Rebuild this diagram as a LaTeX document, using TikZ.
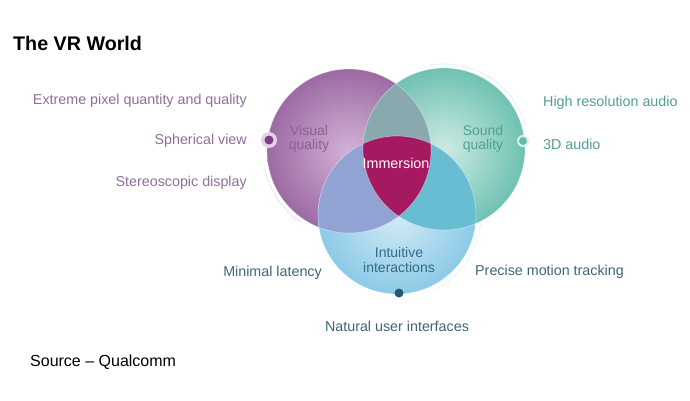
\documentclass[tikz,border=0pt]{standalone}
\usepackage{fontspec}
\setmainfont{Liberation Sans}
\usetikzlibrary{positioning}

\begin{document}
\begin{tikzpicture}[x=1pt,y=-1pt]
      \definecolor{vispurple}{HTML}{9C6AA3}
      \definecolor{vislight}{HTML}{D3B2D6}
      \definecolor{sndteal}{HTML}{6FC1B2}
      \definecolor{sndlight}{HTML}{CDEBE4}
      \definecolor{intblue}{HTML}{8CCAE7}
      \definecolor{intlight}{HTML}{D3EBF7}
      \definecolor{vissnd}{HTML}{88A9AE}
      \definecolor{visint}{HTML}{92A2D2}
      \definecolor{sndint}{HTML}{68BDD2}
      \definecolor{immred}{HTML}{A4195F}
      \definecolor{lblpurple}{HTML}{8C7095}
      \definecolor{lblteal}{HTML}{519F96}
      \definecolor{lblblue}{HTML}{3D6777}
      \definecolor{dotpurple}{HTML}{7D3F86}
      \definecolor{dotteal}{HTML}{5EBEB0}
      \definecolor{dotblue}{HTML}{1E5A78}

      \tikzset{
        lbl/.style={inner sep=0, font=\fontsize{14.3}{16}\selectfont},
        inlbl/.style={inner sep=0, align=center, font=\fontsize{14}{14.5}\selectfont},
        dotarc/.style={densely dotted, line width=0.8, draw=#1!40},
        rim/.style={white, opacity=.35, line width=0.8}
      }

      \def\rV{82} % visual
      \def\rS{81} % sound
      \def\rI{79} % intuitive

      \fill[white] (0,0) rectangle (690,400);
      \useasboundingbox (0,0) rectangle (690,400);

      \coordinate (vis) at (349,151);
      \coordinate (snd) at (444,149);
      \coordinate (int) at (397,215);

      % DOTTED ARCS
      \draw[dotarc=vispurple] (vis) ++(-192:86) arc[start angle=-192, end angle=-236, radius=86];
      \draw[dotarc=sndteal] (snd) ++(-100:85) arc[start angle=-100, end angle=-16, radius=85];
      \draw[dotarc=intblue] (int) ++(4:84) arc[start angle=4, end angle=62, radius=84];

      % CIRCLES
      \shade[inner color=vislight, outer color=vispurple] (vis) circle (\rV);
      \shade[inner color=sndlight, outer color=sndteal] (snd) circle (\rS);
      \begin{scope}
        \clip (vis) circle (\rV);
        \fill[vissnd] (snd) circle (\rS);
      \end{scope}
      \shade[inner color=intlight, outer color=intblue] (int) circle (\rI);
      \begin{scope}
        \clip (vis) circle (\rV);
        \fill[visint] (int) circle (\rI);
      \end{scope}
      \begin{scope}
        \clip (snd) circle (\rS);
        \fill[sndint] (int) circle (\rI);
      \end{scope}
      \begin{scope}
        \clip (vis) circle (\rV);
        \clip (snd) circle (\rS);
        \fill[immred] (int) circle (\rI);
      \end{scope}
      \draw[rim] (vis) circle (\rV) (snd) circle (\rS) (int) circle (\rI);

      % DOTS
      \coordinate (visdot) at (269,140);
      \coordinate (snddot) at (523,141);
      \coordinate (intdot) at (399,293);
      \fill[vislight!60] (visdot) circle (8);
      \fill[dotpurple] (visdot) circle (4.5);
      \fill[sndlight!70] (snddot) circle (6);
      \fill[dotteal] (snddot) circle (4);
      \fill[dotblue] (intdot) circle (4.5);

      % CIRCLE TEXTS
      \node[inlbl, text=dotpurple!85] (visq) at (309,139) {Visual\\quality};
      \node[inlbl, text=lblteal] (sndq) at (483,139) {Sound\\quality};
      \node[inlbl, text=dotblue!90] (intq) at (399,260) {Intuitive\\interactions};
      \node[lbl, white, anchor=base] (imm) at (396,168.5) {Immersion};

      % LABELS
      \node[lbl, lblpurple, anchor=base east] (xpix) at (247,104) {Extreme pixel quantity and quality};
      \node[lbl, lblpurple, anchor=base east] (sph) at (247,144) {Spherical view};
      \node[lbl, lblpurple, anchor=base east] (stereo) at (247,186) {Stereoscopic display};
      \node[lbl, lblteal, anchor=base west] (hires) at (543,106) {High resolution audio};
      \node[lbl, lblteal, anchor=base west] (audio) at (543,149) {3D audio};
      \node[lbl, lblblue, anchor=base east] (latency) at (322,276) {Minimal latency};
      \node[lbl, lblblue, anchor=base west] (tracking) at (475,275) {Precise motion tracking};
      \node[lbl, lblblue, anchor=base] (natural) at (397,331) {Natural user interfaces};

      % TITLE
      \node[inner sep=0, anchor=base west, font=\fontsize{19.7}{22}\selectfont\bfseries] (title) at (13,50) {The VR World};
      \node[inner sep=0, anchor=base west, font=\fontsize{16}{19}\selectfont] (source) at (30,366) {Source – Qualcomm};

\end{tikzpicture}
\end{document}
